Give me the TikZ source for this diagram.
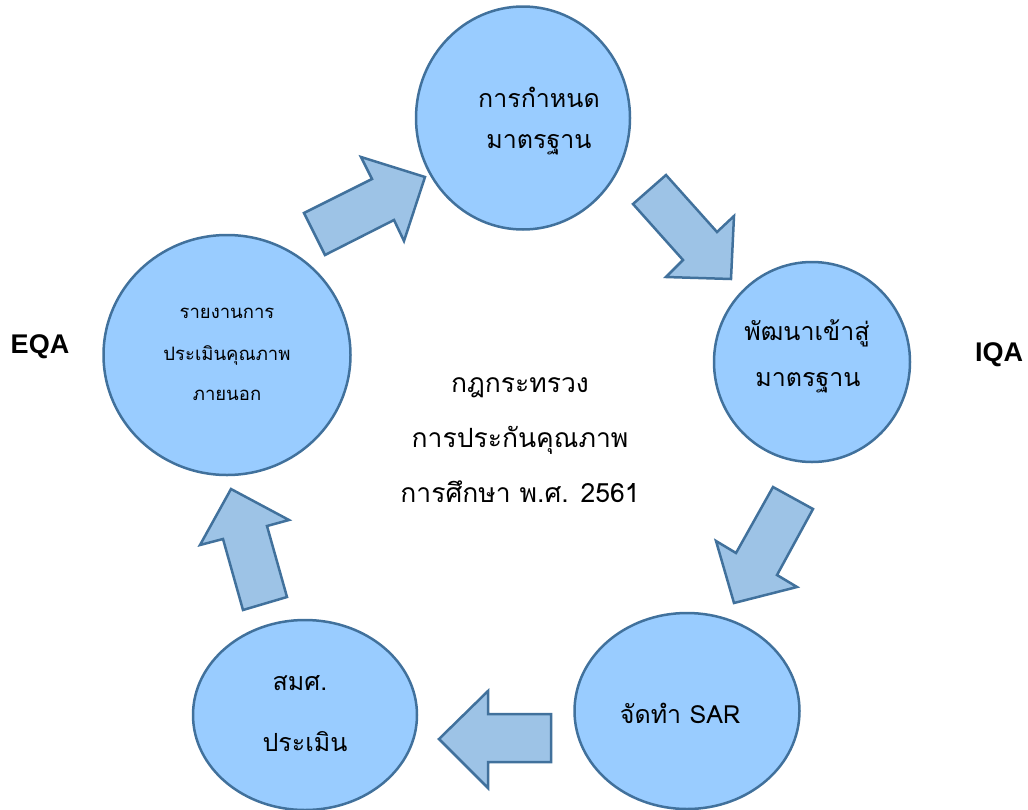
\documentclass[tikz,border=0pt]{standalone}
\usepackage{fontspec}
\setmainfont{Liberation Sans}
\newfontfamily\thaifont[Script=Thai]{Loma}
\usetikzlibrary{shapes.geometric}
\definecolor{ellfill}{HTML}{99CCFF}
\definecolor{arrfill}{HTML}{9DC3E6}
\definecolor{edge}{HTML}{41719C}
\tikzset{
  ell/.style={ellipse, draw=edge, fill=ellfill, line width=2.5pt, inner sep=0pt},
  blockarrow/.style={draw=edge, fill=arrfill, line width=2.5pt, line join=miter},
  thtext/.style={font=\thaifont\fontsize{25}{30}\selectfont, text=black},
  thcenter/.style={font=\thaifont\fontsize{26.5}{30}\selectfont, text=black},
  thsmall/.style={font=\thaifont\fontsize{18.5}{22}\selectfont, text=black},
  qa/.style={font=\bfseries\fontsize{27}{30}\selectfont, text=black}
}
\begin{document}
\begin{tikzpicture}[x=1pt,y=-1pt]
\useasboundingbox (0,0) rectangle (1028,809);
\begin{scope}
\clip (0,0) rectangle (1028,809);
% ellipses
\node[ell, minimum width=214pt, minimum height=223pt] (e1) at (523,118) {};
\node[ell, minimum width=196pt, minimum height=200pt] (e2) at (812,362) {};
\node[ell, minimum width=225pt, minimum height=196pt] (e3) at (687,711) {};
\node[ell, minimum width=224pt, minimum height=190pt] (e4) at (305,715) {};
\node[ell, minimum width=247pt, minimum height=240pt] (e5) at (227,355) {};
% block arrows
\draw[blockarrow] (304,213) -- (372,179) -- (361,157) -- (425,177) -- (404,241) -- (394,220) -- (325,255) -- cycle;
\draw[blockarrow] (666,175) -- (717,232) -- (734,216) -- (731,279) -- (666,277) -- (683,260) -- (633,204) -- cycle;
\draw[blockarrow] (773,487) -- (813,509) -- (777,575) -- (797,587) -- (734,603) -- (716,541) -- (736,553) -- cycle;
\draw[blockarrow] (551,714) -- (551,762) -- (488,762) -- (488,788) -- (439,739) -- (488,691) -- (488,714) -- cycle;
\draw[blockarrow] (231,489) -- (289,520) -- (267,526) -- (287,597) -- (243,610) -- (223,539) -- (200,545) -- cycle;
\end{scope}
% texts
\node[thtext] (t1a) at (539,97) {การกำหนด};
\node[thtext] (t1b) at (539,145) {มาตรฐาน};
\node[thtext] (t2a) at (807,333) {พัฒนาเข้าสู่};
\node[thtext] (t2b) at (808,383) {มาตรฐาน};
\node[thtext] (t3) at (680,713) {จัดทำ SAR};
\node[thtext] (t4a) at (300,683) {สมศ.};
\node[thtext] (t4b) at (305,742) {ประเมิน};
\node[thsmall] (t5a) at (227,313) {รายงานการ};
\node[thsmall] (t5b) at (227,355) {ประเมินคุณภาพ};
\node[thsmall] (t5c) at (227,395) {ภายนอก};
\node[thcenter] (c1) at (520,388) {กฎกระทรวง};
\node[thcenter] (c2) at (520,440) {การประกันคุณภาพ};
\node[thcenter] (c3) at (520,492) {การศึกษา พ.ศ. 2561};
\node[qa] (eqa) at (40,347) {EQA};
\node[qa] (iqa) at (999,355) {IQA};
\end{tikzpicture}
\end{document}
